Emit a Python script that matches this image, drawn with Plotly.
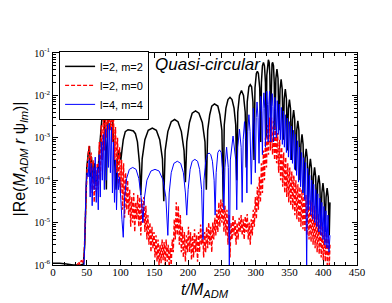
import plotly.graph_objects as go

# ---------------- data ----------------
# l=2, m=2  (t/M_ADM, |Re(M r psi)|)
black_pts = [
    (0, 1.1e-6), (10, 1.1e-6), (20, 1.05e-6), (30, 1.0e-6), (40, 1.0e-6), (45, 1.05e-6),
    (47, 3e-6), (48.5, 5e-5), (50, 2e-4), (52, 4e-4), (54, 6.4e-4), (55.5, 1.2e-4),
    (57, 3.5e-4), (59, 1e-4), (61, 2.5e-4), (63, 8e-5), (65, 1.5e-4), (67, 2e-4),
    (69, 6e-4), (71, 2e-3), (73, 3.8e-3), (74.5, 4.3e-3), (76, 3e-3), (78, 5e-4),
    (79, 6e-5), (80, 6e-4), (82, 4e-3), (84, 6.6e-3), (86, 5.5e-3), (88, 2.5e-3),
    (90, 8e-4), (92, 2e-4), (93.5, 6e-5), (95, 2.5e-4), (97, 5e-4), (99, 4.5e-4),
    (100.5, 3e-4), (102, 5e-4), (104, 9e-4), (107, 1.4e-3), (111, 1.55e-3), (115, 1.5e-3),
    (119, 1.45e-3), (122, 1.25e-3), (125, 8e-4), (128, 2.5e-4), (130, 4.5e-5),
    (132, 3.2e-4), (136, 9e-4), (141, 1.5e-3), (147, 1.7e-3), (153, 1.5e-3), (158, 9e-4),
    (162, 3.2e-4), (164, 3.2e-5),
    (166, 5e-4), (170, 1.4e-3), (175, 2.4e-3), (180, 2.7e-3), (185, 2.4e-3), (190, 1.4e-3),
    (194, 5e-4), (196, 9e-5),
    (198, 8e-4), (202, 2.3e-3), (206, 3.8e-3), (211, 4.3e-3), (216, 3.8e-3), (221, 2.3e-3),
    (225, 8e-4), (227, 6e-5),
    (229, 1.5e-3), (232, 3.5e-3), (235, 5.6e-3), (239, 6.3e-3), (244, 5.6e-3), (247, 3.5e-3),
    (250, 1.5e-3), (252, 3e-5),
    (253.5, 2e-3), (256, 5e-3), (259, 8e-3), (262, 9e-3), (265, 8e-3), (268, 5e-3),
    (270.5, 2e-3), (272, 1e-4),
    (273.5, 4e-3), (276, 1e-2), (279, 1.3e-2), (282, 1e-2), (284.5, 4e-3), (286, 2e-4),
    (287.5, 7e-3), (290, 1.6e-2), (292, 1.8e-2), (294, 1.6e-2), (296, 7e-3), (297.5, 3e-4),
    (299, 1.5e-2), (301, 3.3e-2), (302.5, 3.7e-2), (304, 3.3e-2), (306, 1.5e-2), (307.5, 8e-4),
    (308.5, 2e-2), (310, 5e-2), (311.5, 6e-2), (313, 5e-2), (314.5, 2e-2), (315.5, 1e-3),
    (316.5, 3e-2), (317.5, 6e-2), (318.8, 6.9e-2), (320, 6e-2), (321, 3e-2), (322, 2e-3),
    (323, 3e-2), (324.2, 5.5e-2), (325.2, 6e-2), (326.4, 5e-2), (327.5, 2e-2), (328.5, 1.5e-3),
    (329.9, 2.5e-2), (331.5, 4.2e-2), (333.1, 2.5e-2), (334.6, 1.5e-3),
    (336.1, 1.4e-2), (337.7, 2.4e-2), (339.3, 1.4e-2), (340.8, 9e-4),
    (342.3, 8.4e-3), (343.9, 1.4e-2), (345.5, 8.4e-3), (347, 5e-4),
    (348.4, 4.8e-3), (350, 8e-3), (351.6, 4.8e-3), (353.1, 3e-4),
    (354.6, 2.7e-3), (356.2, 4.5e-3), (357.8, 2.7e-3), (359.3, 1.7e-4),
    (360.8, 1.5e-3), (362.4, 2.5e-3), (364, 1.5e-3), (365.5, 1e-4),
    (367, 7e-4), (368.6, 1.2e-3), (370.2, 7e-4), (371.7, 5e-5),
    (373.2, 3.3e-4), (374.8, 5.5e-4), (376.4, 3.3e-4), (377.9, 3e-5),
    (379.4, 1.9e-4), (381, 3.2e-4), (382.6, 1.9e-4), (384.1, 2e-5),
    (385.6, 1.2e-4), (387.2, 2e-4), (388.8, 1.2e-4), (390.3, 1.2e-5),
    (391.8, 8e-5), (393.4, 1.3e-4), (395, 8e-5), (396.5, 8e-6),
    (398, 5e-5), (399.6, 8.5e-5), (401.2, 5e-5), (402.7, 6e-6),
    (404.2, 4e-5), (405.8, 6.5e-5), (407.4, 4e-5), (408.9, 5e-6), (410, 3e-5),
]

# l=2, m=0
red_pts = [
    (0, 8e-7), (30, 8e-7), (36, 1.0e-6), (38, 1.2e-6), (40, 1.0e-6), (42, 1.3e-6), (44, 1.1e-6),
    (46, 1.5e-6), (47.5, 8e-6), (49, 6e-5), (50.5, 2e-4), (52, 4e-4), (53.5, 6.5e-4),
    (55, 1.5e-4), (56.5, 4.5e-4), (58, 5e-5), (59.5, 3e-4), (61, 3e-5), (62.5, 2e-4),
    (64, 5e-5), (65.5, 2.5e-4), (67, 6e-5), (68.5, 8e-4), (70, 1e-4), (71.5, 2e-3),
    (73, 3e-4), (74.5, 3.5e-3), (76, 5e-4), (77.5, 5e-3), (79, 1e-3), (80.5, 6e-3),
    (82, 1.5e-3), (83.5, 6.8e-3), (85, 1.5e-3), (86.5, 5.5e-3), (88, 8e-4), (89.5, 3.5e-3),
    (91, 3e-4), (92.5, 1.8e-3), (94, 1.5e-4), (95.5, 1e-3), (97, 8e-5), (98.5, 6e-4),
    (100, 5e-5), (101.5, 3e-4), (103, 2e-5), (104.5, 2.5e-4), (106, 1.3e-5), (107.5, 1.5e-4),
    (109, 2e-5), (110.5, 1e-4), (112, 1.5e-5), (113.5, 6e-5), (115, 8e-6), (116.5, 4e-5),
    (118, 1e-5), (119.5, 5e-5), (121, 6e-6), (122.5, 3e-5), (124, 1.2e-5), (125.5, 4.5e-5),
    (127, 8e-6), (128.5, 4e-5), (130, 5e-6), (131.5, 3.5e-5), (133, 1e-5), (134.5, 4e-5),
    (136, 6e-6), (137.5, 2.5e-5), (139, 4e-6), (140.5, 1.5e-5), (142, 3e-6), (143.5, 1e-5),
    (145, 2e-6), (146.5, 8e-6), (148, 2.5e-6), (149.5, 6e-6), (151, 1.5e-6), (152.5, 5e-6),
    (154, 1.2e-6), (155.5, 4e-6), (157, 1e-6), (158.5, 3e-6), (160, 1.1e-6), (161.5, 4e-6),
    (163, 1.3e-6), (164.5, 3.5e-6), (166, 1e-6), (167.5, 4e-6), (169, 1.2e-6), (170.5, 3e-6),
    (172, 9e-7), (173.5, 2.5e-6), (175, 1e-6), (176.5, 4e-6), (178, 2e-6), (179.5, 1.2e-5),
    (181, 4e-6), (182.5, 3e-5), (184, 5e-6), (185.5, 2.5e-5), (187, 3e-6), (188.5, 1.5e-5),
    (190, 2e-6), (191.5, 8e-6), (193, 1.5e-6), (194.5, 6e-6), (196, 1.2e-6), (197.5, 5e-6),
    (199, 2e-6), (200.5, 8e-6), (202, 2e-6), (203.5, 6e-6), (205, 1.3e-6), (206.5, 5e-6),
    (208, 1.5e-6), (209.5, 7e-6), (211, 2e-6), (212.5, 5e-6), (214, 1.2e-6), (215.5, 6e-6),
    (217, 2e-6), (218.5, 9e-6), (220, 3e-6), (221.5, 7e-6), (223, 1.5e-6), (224.5, 6e-6),
    (226, 2e-6), (227.5, 8e-6), (229, 2.5e-6), (230.5, 1e-5), (232, 3e-6), (233.5, 8e-6),
    (235, 2e-6), (236.5, 1e-5), (238, 4e-6), (239.5, 1.3e-5), (241, 5e-6), (242.5, 2e-5),
    (244, 6e-6), (245.5, 3e-5), (247, 8e-6), (248.5, 3.5e-5), (250, 1e-5), (251.5, 3e-5),
    (253, 6e-6), (254.5, 2.5e-5), (256, 5e-6), (257.5, 2e-5), (259, 3e-6), (260.5, 1.5e-5),
    (262, 1.5e-6), (263.5, 1e-5), (265, 4e-6), (266.5, 1.5e-5), (268, 5e-6), (269.5, 1.2e-5),
    (271, 3e-6), (272.5, 1e-5), (274, 4e-6), (275.5, 1.3e-5), (277, 6e-6), (278.5, 1.5e-5),
    (280, 5e-6), (281.5, 1.2e-5), (283, 4e-6), (284.5, 1.4e-5), (286, 6e-6), (287.5, 1.6e-5),
    (289, 4e-6), (290.5, 1e-5), (292, 3e-6), (293.5, 1.2e-5), (295, 5e-6), (296.5, 2e-5),
    (298, 8e-6), (299.5, 4e-5), (301, 1.2e-5), (302.5, 7e-5), (304, 2e-5), (305.5, 1.2e-4),
    (307, 3e-5), (308.5, 2.5e-4), (310, 5e-5), (311.5, 5e-4), (313, 1e-4), (314.5, 1e-3),
    (316, 2e-4), (317.5, 2e-3), (319, 4e-4), (320.5, 3e-3), (322, 5e-4), (323.5, 3e-3),
    (325, 4e-4), (326.5, 2.5e-3), (328, 3e-4), (329.5, 1.8e-3), (331, 2.5e-4), (332.5, 1.3e-3),
    (334, 1.5e-4), (335.5, 9e-4), (337, 1e-4), (338.5, 6e-4), (340, 7e-5), (341.5, 4.5e-4),
    (343, 5e-5), (344.5, 3.5e-4), (346, 4e-5), (347.5, 2.5e-4), (349, 3e-5), (350.5, 2e-4),
    (352, 2.5e-5), (353.5, 1.6e-4), (355, 2e-5), (356.5, 1.3e-4), (358, 1.5e-5), (359.5, 1e-4),
    (361, 1.2e-5), (362.5, 8e-5), (364, 1e-5), (365.5, 7e-5), (367, 8e-6), (368.5, 6e-5),
    (370, 7e-6), (371.5, 5e-5), (373, 6e-6), (374.5, 4.5e-5), (376, 5e-6), (377.5, 4e-5),
    (379, 4e-6), (380.5, 3.5e-5), (382, 3.5e-6), (383.5, 3e-5), (385, 3e-6), (386.5, 2.5e-5),
    (388, 2.5e-6), (389.5, 2e-5), (391, 2e-6), (392.5, 1.6e-5), (394, 1.8e-6), (395.5, 1.3e-5),
    (397, 1.5e-6), (398.5, 1e-5), (400, 1.3e-6), (401.5, 8e-6), (403, 1.2e-6), (404.5, 6e-6),
    (406, 1e-6), (407.5, 5e-6), (409, 1e-6), (410, 3e-6),
]

# l=4, m=4
blue_pts = [
    (0, 7e-7), (44, 7e-7), (46, 1e-6), (47.5, 1e-5), (49, 8e-5), (50.5, 1.5e-4), (52, 1.2e-4),
    (53.5, 3e-4), (55, 4e-5), (56.5, 2.5e-4), (58, 2.5e-5), (59.5, 2e-4), (61, 6e-5),
    (62.5, 3.5e-4), (64, 3e-5), (65.5, 2e-4), (67, 2e-5), (68.5, 4e-4), (70, 4e-5),
    (71.5, 8e-4), (73, 1e-4), (74.5, 1.2e-3), (76, 6e-5), (77.5, 1.6e-3), (79, 1e-4),
    (80.5, 2e-3), (82, 2e-4), (83.5, 2.2e-3), (85, 1.5e-4), (86.5, 1.8e-3), (88, 5e-5),
    (89.5, 8e-4), (91, 3e-5), (92.5, 3e-4), (94, 2e-5), (95.5, 1.5e-4), (97, 6e-5),
    (98.5, 1.2e-4), (100, 3e-5), (102, 1.2e-5), (104, 4.5e-6),
    (106, 4e-5), (109, 1.1e-4), (113, 1.8e-4), (118, 2e-4), (123, 1.8e-4), (127, 1.1e-4),
    (130.5, 4e-5), (133, 1e-5),
    (135.5, 4e-5), (139, 1e-4), (145, 1.65e-4), (151, 1.8e-4), (157, 1.65e-4), (163, 1e-4),
    (167, 4e-5), (170, 5e-6),
    (172, 5e-5), (175, 1.5e-4), (179, 2.5e-4), (184, 2.8e-4), (189, 2.5e-4), (193, 1.5e-4),
    (196, 5e-5), (198, 1.5e-5),
    (200, 6e-5), (203, 1.8e-4), (206, 2.8e-4), (210, 3.1e-4), (214, 2.8e-4), (217, 1.8e-4),
    (220, 6e-5), (222, 4e-6),
    (223.5, 1e-4), (226, 2.8e-4), (228.5, 4e-4), (231, 4.4e-4), (233.5, 4e-4), (236, 2.8e-4),
    (238.5, 1e-4), (240, 1.5e-5),
    (241.5, 1.5e-4), (244, 4.5e-4), (246.5, 5.2e-4), (249, 4.5e-4), (251.5, 1.5e-4), (253, 2e-5),
    (254.5, 2e-4), (257, 6e-4), (259.5, 2e-4), (261, 8e-7), (262.5, 3e-4), (266.5, 1.1e-3),
    (270.5, 3e-4), (272, 2e-5), (273.5, 6e-4), (276, 1.6e-3), (278.5, 6e-4), (280, 3e-5),
    (281.5, 9e-4), (283.5, 2.4e-3), (285.5, 9e-4), (287, 5e-5), (288.3, 1.4e-3), (290, 3.5e-3),
    (291.7, 1.4e-3), (293.5, 8e-5), (295, 2e-3), (296.5, 5e-3), (298, 2e-3), (299.5, 1.5e-4),
    (300.8, 3e-3), (302, 7e-3), (303.5, 3e-3), (305, 2.5e-4), (306.2, 4e-3), (307.5, 9.5e-3),
    (308.8, 4e-3), (310, 4e-4), (311, 5e-3), (312.2, 1.15e-2), (313.4, 5e-3), (314.5, 6e-4),
    (315.5, 6e-3), (316.5, 1.25e-2), (317.5, 6e-3), (318.5, 8e-4), (319.5, 6e-3), (320.5, 1.25e-2),
    (321.5, 6e-3), (322.5, 8e-4), (323.5, 5.5e-3), (324.5, 1.1e-2), (325.5, 5.5e-3), (326.5, 8e-4),
    (327.5, 4.5e-3), (328.5, 9e-3), (329.5, 4.5e-3), (330.5, 1e-3),
    (332, 7.5e-3), (333.5, 1.2e-3), (335, 6.2e-3), (336.5, 9e-4), (338, 5.2e-3), (339.5, 7e-4),
    (341, 4.3e-3), (342.5, 6e-4), (344, 3.5e-3), (345.5, 4.5e-4), (347, 2.9e-3), (348.5, 3.5e-4),
    (350, 2.4e-3), (351.5, 3e-4), (353, 1.9e-3), (354.5, 2.5e-4), (356, 1.5e-3), (357.5, 1.8e-4),
    (359, 1.2e-3), (360.5, 1.3e-4), (362, 8.5e-4), (363.5, 9e-5), (365, 6e-4), (366.5, 7e-5),
    (368, 4.5e-4), (369.5, 5e-5), (371, 3.4e-4), (372.5, 3.5e-5), (374, 2.6e-4), (375.5, 8e-7),
    (377, 1.9e-4), (378.5, 2e-5), (380, 1.3e-4), (381.5, 1.5e-5), (383, 1e-4), (384.5, 1.2e-5),
    (386, 8e-5), (387.5, 1e-5), (389, 6e-5), (390.5, 8e-6), (392, 4.8e-5), (393.5, 6e-6),
    (395, 3.8e-5), (396.5, 5e-6), (398, 3e-5), (399.5, 4e-6), (401, 2.4e-5), (402.5, 3e-6),
    (404, 1.9e-5), (405.5, 2.5e-6), (407, 1.5e-5), (408.5, 2e-6), (410, 5e-6),
]

series_names = ["l=2, m=2", "l=2, m=0", "l=4, m=4"]
y_tick_vals = [1e-6, 1e-5, 1e-4, 1e-3, 1e-2, 1e-1]
y_tick_text = ["10<sup>-6</sup>", "10<sup>-5</sup>", "10<sup>-4</sup>",
               "10<sup>-3</sup>", "10<sup>-2</sup>", "10<sup>-1</sup>"]
x_tick_vals = [0, 50, 100, 150, 200, 250, 300, 350, 400, 450]

# ---------------- figure ----------------
def split(pts):
    return [p[0] for p in pts], [p[1] for p in pts]

bt, bv = split(black_pts)
rt, rv = split(red_pts)
ut, uv = split(blue_pts)

fig = go.Figure()
fig.add_trace(go.Scatter(x=bt, y=bv, mode="lines", name=series_names[0],
                         line=dict(color="black", width=1.5)))
fig.add_trace(go.Scatter(x=rt, y=rv, mode="lines", name=series_names[1],
                         line=dict(color="red", width=1.4, dash="4px,2px")))
fig.add_trace(go.Scatter(x=ut, y=uv, mode="lines", name=series_names[2],
                         line=dict(color="blue", width=1.0)))

serif = "Liberation Serif, Times New Roman, serif"
sans = "Liberation Sans, Arial, sans-serif"

fig.update_layout(
    width=392, height=303,
    margin=dict(l=45, r=43, t=45, b=46),
    paper_bgcolor="white", plot_bgcolor="white",
    showlegend=True,
    legend=dict(x=0.02, y=1.01, xanchor="left", yanchor="top",
                bgcolor="white", bordercolor="black", borderwidth=1,
                font=dict(family=sans, size=11, color="black"),
                tracegroupgap=0, itemwidth=30),
    xaxis=dict(range=[0, 450], tickvals=x_tick_vals, ticks="inside", ticklen=5,
               tickwidth=1, tickcolor="black", showline=True, linecolor="black",
               linewidth=1, mirror="ticks", showgrid=False, zeroline=False,
               ticklabelstandoff=-3,
               tickfont=dict(family=serif, size=11, color="black"),
               minor=dict(dtick=50 / 3, tick0=0, ticks="inside", ticklen=3,
                          tickcolor="black", showgrid=False)),
    yaxis=dict(type="log", range=[-6, -1], tickvals=y_tick_vals, ticktext=y_tick_text,
               ticks="inside", ticklen=5, tickwidth=1, tickcolor="black",
               showline=True, linecolor="black", linewidth=1, mirror="ticks",
               showgrid=False, zeroline=False,
               tickfont=dict(family=serif, size=10, color="black"),
               minor=dict(dtick="D1", ticks="inside", ticklen=3, tickcolor="black",
                          showgrid=False),
               title=dict(text="|Re(<i>M</i><sub><i>ADM</i></sub><i> r </i>ψ<sub><i>lm</i></sub>)|",
                          font=dict(family=sans, size=16, color="black"), standoff=4)),
    annotations=[
        dict(text="<i>Quasi-circular</i>", xref="paper", yref="paper",
             x=0.33, y=0.945, xanchor="left", yanchor="middle", showarrow=False,
             font=dict(family=sans, size=17, color="black")),
        dict(text="<i>t/M</i><sub><i>ADM</i></sub>", xref="paper", yref="paper",
             x=0.5, y=-0.118, xanchor="center", yanchor="middle", showarrow=False,
             font=dict(family=sans, size=16, color="black")),
    ],
)

fig.write_html("out.html")
